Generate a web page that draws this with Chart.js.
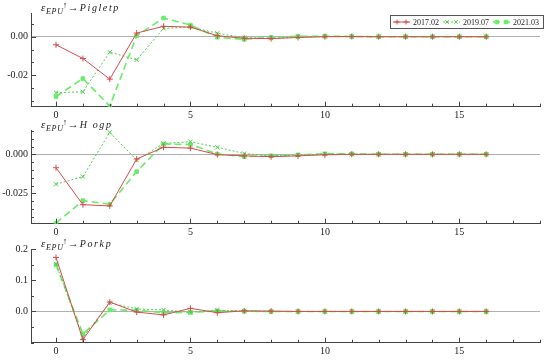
<!DOCTYPE html>
<html><head><meta charset="utf-8">
<script src="https://cdn.jsdelivr.net/npm/chart.js@4"></script>
<style>
html,body{margin:0;padding:0;background:#fff;width:550px;height:360px;overflow:hidden}
.p{position:absolute;left:0;width:550px;height:120px}
</style></head><body>
<div class="p" style="top:0"><canvas id="c1" width="550" height="120"></canvas></div>
<div class="p" style="top:117px"><canvas id="c2" width="550" height="120"></canvas></div>
<div class="p" style="top:236px"><canvas id="c3" width="550" height="120"></canvas></div>
<script>
// ---- data ----
const steps = [0,1,2,3,4,5,6,7,8,9,10,11,12,13,14,15,16];
const seriesLabels = ['2017.02','2019.07','2021.03'];
const xTickLabels = [0,5,10,15];

const pig2017 = [-0.0042,-0.0113,-0.0220,0.0019,0.0054,0.0050,0.0005,-0.0008,-0.0010,-0.0004,0.0000,0.0001,0.0000,0.0000,0.0000,0.0000,0.0000];
const pig2019 = [-0.0290,-0.0286,-0.0080,-0.0120,0.0043,0.0050,0.0018,-0.0005,-0.0008,-0.0002,0.0001,0.0000,0.0000,0.0000,0.0000,0.0000,0.0000];
const pig2021 = [-0.0310,-0.0217,-0.0360,0.0005,0.0097,0.0060,-0.0003,-0.0014,-0.0003,0.0002,0.0003,0.0001,0.0000,0.0000,0.0000,0.0000,0.0000];

const hog2017 = [-0.0086,-0.0323,-0.0331,-0.0030,0.0045,0.0040,-0.0002,-0.0010,-0.0015,-0.0010,-0.0003,0.0000,0.0000,0.0000,0.0000,0.0000,0.0000];
const hog2019 = [-0.0192,-0.0143,0.0141,-0.0037,0.0070,0.0081,0.0045,0.0005,-0.0010,-0.0005,0.0002,0.0000,0.0000,0.0000,0.0000,0.0000,0.0000];
const hog2021 = [-0.0442,-0.0297,-0.0320,-0.0111,0.0066,0.0063,0.0002,-0.0015,-0.0010,-0.0003,0.0003,0.0003,0.0000,0.0000,0.0000,0.0000,0.0000];

const pork2017 = [0.173,-0.090,0.030,-0.002,-0.011,0.010,-0.004,0.002,0.001,0.000,0.000,0.000,0.000,0.000,0.000,0.000,0.000];
const pork2019 = [0.152,-0.083,0.028,0.008,0.005,-0.003,0.004,0.001,0.000,0.000,0.000,0.000,0.000,0.000,0.000,0.000,0.000];
const pork2021 = [0.150,-0.072,0.005,0.004,-0.004,-0.003,0.002,0.001,0.000,0.000,0.000,0.000,0.000,0.000,0.000,0.000,0.000];

const pigYTicks = [-0.02, 0.00];
const hogYTicks = [-0.025, 0.000];
const porkYTicks = [0.0, 0.1, 0.2];

// ---- styles ----
const SERIF = '"Liberation Serif","DejaVu Serif",serif';
const styles = [
  {color:'#d9494f', dash:[], pointStyle:'cross', radius:3, width:1},
  {color:'#4fcf4f', dash:[2,2], pointStyle:'crossRot', radius:3, width:1},
  {color:'#66ee66', dash:[7,4], pointStyle:'rect', radius:2.5, width:1.6}
];

function mkDatasets(arrs){
  return arrs.map((a,i)=>({
    label: seriesLabels[i],
    data: steps.map((s,j)=>({x:s,y:a[j]})),
    borderColor: styles[i].color,
    backgroundColor: styles[i].color,
    borderWidth: styles[i].width,
    borderDash: styles[i].dash,
    pointStyle: styles[i].pointStyle,
    pointRadius: styles[i].radius,
    pointBorderWidth: 1,
    pointBorderColor: styles[i].color,
    pointBackgroundColor: styles[i].color,
    tension: 0,
    fill: false
  }));
}

const decor = {
  id:'decor',
  afterDraw(chart, args, o){
    const ctx = chart.ctx, xs = chart.scales.x, ys = chart.scales.y;
    const a = chart.chartArea;
    ctx.save();
    ctx.strokeStyle = '#444'; ctx.lineWidth = 1;
    // x ticks (inward)
    for (let v=0; v<=18; v++){
      const px = Math.round(xs.getPixelForValue(v))+0.5;
      const len = (v%5===0)?5:3;
      ctx.beginPath(); ctx.moveTo(px, a.bottom); ctx.lineTo(px, a.bottom-len); ctx.stroke();
    }
    // y ticks (inward)
    const st = o.minor;
    const start = Math.ceil((ys.min-1e-12)/st);
    const end = Math.floor((ys.max+1e-12)/st);
    for (let k=start; k<=end; k++){
      const v = k*st;
      const py = Math.round(ys.getPixelForValue(v))+0.5;
      const major = o.major.some(m=>Math.abs(m-v)<st/10);
      const len = major?5:3;
      ctx.beginPath(); ctx.moveTo(a.left, py); ctx.lineTo(a.left+len, py); ctx.stroke();
    }
    // title
    ctx.fillStyle = '#222';
    ctx.textBaseline = 'alphabetic';
    let x = 41, y = 11;
    ctx.font = 'italic 11px '+SERIF; ctx.fillText('ε', x, y); x += 5;
    ctx.font = 'italic 8px '+SERIF;
    for (const ch of 'EPU'){ ctx.fillText(ch, x, y+3); x += 5.6; }
    ctx.font = '9px '+SERIF; ctx.fillText('↑', x, y-3); x += 5;
    ctx.font = '11px '+SERIF; ctx.fillText('→', x, y); x += 12;
    ctx.font = 'italic 10px '+SERIF;
    for (const ch of o.title){ ctx.fillText(ch, x, y); x += ctx.measureText(ch).width + 1.6; }
    // legend
    if (o.legend){
      const bx=390, by=15, bw=153, bh=13;
      ctx.fillStyle='#fff'; ctx.fillRect(bx,by,bw,bh);
      ctx.strokeStyle='#555'; ctx.lineWidth=1; ctx.strokeRect(bx+0.5,by+0.5,bw,bh);
      const cy = by+7;
      const sx = [393, 443, 493];
      chart.data.datasets.forEach((d,i)=>{
        ctx.save();
        ctx.strokeStyle = d.borderColor; ctx.lineWidth = d.borderWidth;
        ctx.setLineDash(d.borderDash);
        ctx.beginPath(); ctx.moveTo(sx[i], cy); ctx.lineTo(sx[i]+17, cy); ctx.stroke();
        ctx.setLineDash([]);
        ctx.lineWidth = 1;
        ctx.fillStyle = d.borderColor;
        [sx[i]+4, sx[i]+13].forEach(mx=>{
          Chart.helpers.drawPoint(ctx, {pointStyle:d.pointStyle, radius:Math.min(d.pointRadius,2.5), borderWidth:1, rotation:0}, mx, cy);
        });
        ctx.restore();
        ctx.fillStyle='#222'; ctx.font='8px '+SERIF; ctx.textBaseline='middle';
        ctx.fillText(d.label, sx[i]+20, cy+0.5);
      });
    }
    ctx.restore();
  }
};

function makePanel(id, arrs, yMin, yMax, yTicks, minor, dec, title, legend){
  new Chart(document.getElementById(id), {
    type:'line',
    data:{datasets: mkDatasets(arrs)},
    options:{
      responsive:false, animation:false,
      layout:{padding:{top:13,right:10,left:0,bottom:0}},
      plugins:{legend:{display:false}, tooltip:{enabled:false},
        decor:{minor:minor, major:yTicks, title:title, legend:legend}},
      scales:{
        x:{type:'linear', min:-0.93, max:18,
          afterBuildTicks(s){ s.ticks = xTickLabels.map(v=>({value:v})); },
          afterFit(s){ s.height = 13.3; },
          grid:{display:false, drawTicks:false},
          border:{display:true, color:'#444', width:1},
          ticks:{padding:3, color:'#222', font:{family:SERIF, size:10}, callback:(v)=>String(v), maxRotation:0, autoSkip:false}
        },
        y:{type:'linear', min:yMin, max:yMax,
          afterBuildTicks(s){ s.ticks = yTicks.map(v=>({value:v})); },
          afterFit(s){ s.width = 31; },
          grid:{drawTicks:false, drawOnChartArea:true, lineWidth:1,
            color:(c)=> (c.tick && Math.abs(c.tick.value)<1e-12) ? '#b0b0b0' : 'rgba(0,0,0,0)'},
          border:{display:true, color:'#444', width:1},
          ticks:{padding:3, color:'#222', font:{family:SERIF, size:10}, callback:(v)=>Number(v).toFixed(dec), autoSkip:false}
        }
      }
    },
    plugins:[decor]
  });
}

makePanel('c1', [pig2017,pig2019,pig2021], -0.0363, 0.0123, pigYTicks, 0.02/3, 2, 'Pigletp', true);
makePanel('c2', [hog2017,hog2019,hog2021], -0.0445, 0.0156, hogYTicks, 0.005, 3, 'H ogp', false);
makePanel('c3', [pork2017,pork2019,pork2021], -0.1, 0.2, porkYTicks, 0.05, 1, 'Porkp', false);
</script>
</body></html>
